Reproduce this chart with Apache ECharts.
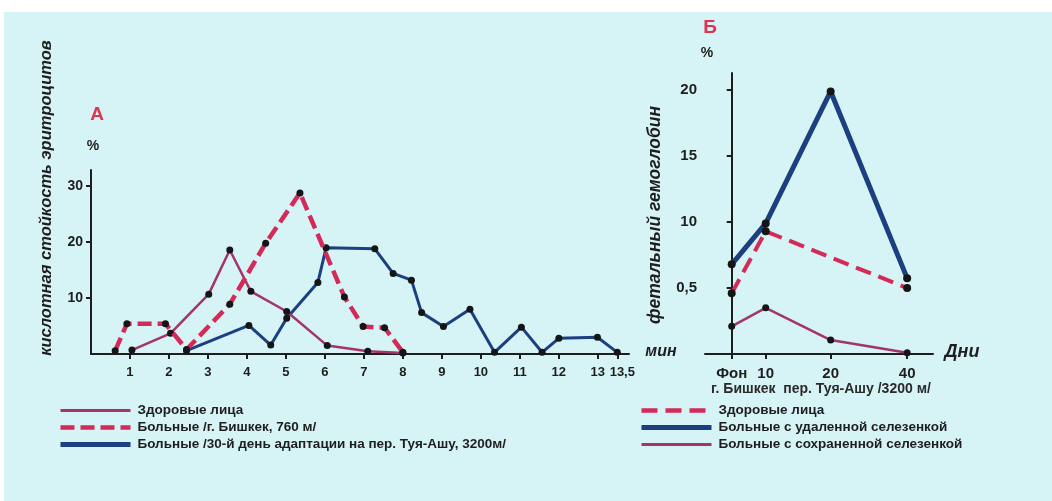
<!DOCTYPE html>
<html>
<head>
<meta charset="utf-8">
<script src="https://cdn.jsdelivr.net/npm/echarts@6/dist/echarts.min.js"></script>
<style>
  html, body { margin: 0; padding: 0; background: #ffffff; }
  #chart { width: 1052px; height: 501px; }
</style>
</head>
<body>
<div id="chart"></div>
<script>
// ---------- Chart A: acid resistance of erythrocytes ----------
const xTicksA = [1, 2, 3, 4, 5, 6, 7, 8, 9, 10, 11, 12, 13, 13.5];
const xTickLabelsA = ['1', '2', '3', '4', '5', '6', '7', '8', '9', '10', '11', '12', '13', '13,5'];
const yTicksA = [10, 20, 30];

const healthyA_x = [1.05, 2.04, 3.02, 3.56, 4.1, 5.02, 6.06, 7.1, 8.0];
const healthyA_y = [0.7, 3.7, 10.7, 18.6, 11.2, 7.6, 1.5, 0.5, 0.2];

const bishkek_x = [0.62, 0.92, 1.91, 2.45, 3.56, 4.48, 5.36, 6.5, 6.98, 7.53, 8.0];
const bishkek_y = [0.6, 5.4, 5.4, 0.8, 8.9, 19.8, 28.8, 10.2, 4.9, 4.7, 0.3];

const tuya_x = [2.45, 4.05, 4.61, 5.02, 5.82, 6.03, 7.28, 7.75, 8.22, 8.48, 9.04, 9.72, 10.35, 11.04, 11.57, 12.0, 12.99, 13.5];
const tuya_y = [0.6, 5.1, 1.6, 6.4, 12.8, 19.0, 18.8, 14.4, 13.2, 7.4, 4.9, 8.0, 0.3, 4.8, 0.3, 2.8, 3.0, 0.3];

// ---------- Chart Б: fetal hemoglobin ----------
const xLabelsB = ['Фон', '10', '20', '40'];
const xPosB = [0, 1, 2.91, 5.16];          // horizontal placement of each period as drawn
const yTicksB = [5, 10, 15, 20];
const yTickLabelsB = ['0,5', '10', '15', '20'];

const healthyB = [4.6, 9.3, null, 5.0];
const removedSpleen = [6.8, 9.9, 19.9, 5.75];
const keptSpleen = [2.1, 3.5, 1.06, 0.1];

const namesA = ['Здоровые лица', 'Больные /г. Бишкек, 760 м/', 'Больные /30-й день адаптации на пер. Туя-Ашу, 3200м/'];
const namesB = ['Б: Здоровые лица', 'Б: Больные с удаленной селезенкой', 'Б: Больные с сохраненной селезенкой'];

const pair = (xs, ys) => xs.map((x, i) => [x, ys[i]]);

const C_RED = '#d42a58';
const C_BLUE = '#1c3f80';
const C_PINK = '#a3356a';
const C_TEXT = '#1e1e1e';
const FONT = 'Liberation Sans, Arial, sans-serif';

const axisLineStyle = { color: '#1e1e1e', width: 2 };
const tickFont = { color: C_TEXT, fontSize: 13, fontWeight: 'bold', fontFamily: FONT };

const chart = echarts.init(document.getElementById('chart'), null, { renderer: 'canvas' });

const legendText = { color: C_TEXT, fontSize: 13.5, fontWeight: 'bold', fontFamily: FONT, padding: [0, 0, 0, 2], lineHeight: 15 };
const legendWidths = [3, 4.5, 5];
const legendWidthsB = [4.5, 5, 3];

const option = {
  backgroundColor: '#ffffff',
  animation: false,
  graphic: [
    { type: 'rect', z: -10, shape: { x: 4, y: 12, width: 1048, height: 489 }, style: { fill: '#d6f3f5' } },
    { type: 'text', x: 97, y: 115, style: { text: 'А', fill: '#e0334f', font: 'bold 19px ' + FONT, textAlign: 'center', textVerticalAlign: 'middle' } },
    { type: 'text', x: 93, y: 146, style: { text: '%', fill: C_TEXT, font: 'bold 14px ' + FONT, textAlign: 'center', textVerticalAlign: 'middle' } },
    { type: 'text', x: 710, y: 28, style: { text: 'Б', fill: '#e0334f', font: 'bold 19px ' + FONT, textAlign: 'center', textVerticalAlign: 'middle' } },
    { type: 'text', x: 707, y: 53, style: { text: '%', fill: C_TEXT, font: 'bold 14px ' + FONT, textAlign: 'center', textVerticalAlign: 'middle' } },
    { type: 'text', x: 661, y: 352, style: { text: 'мин', fill: C_TEXT, font: 'italic bold 16px ' + FONT, textAlign: 'center', textVerticalAlign: 'middle' } },
    { type: 'text', x: 962, y: 352, style: { text: 'Дни', fill: C_TEXT, font: 'italic bold 18px ' + FONT, textAlign: 'center', textVerticalAlign: 'middle' } },
    { type: 'text', x: 821, y: 389, style: { text: 'г. Бишкек  пер. Туя-Ашу /3200 м/', fill: '#2a2a2a', font: 'bold 14px ' + FONT, textAlign: 'center', textVerticalAlign: 'middle' } },
    { type: 'text', x: 46, y: 198, rotation: Math.PI / 2, style: { text: 'кислотная стойкость эритроцитов', fill: C_TEXT, font: 'italic bold 16.5px ' + FONT, textAlign: 'center', textVerticalAlign: 'middle' } },
    { type: 'text', x: 655, y: 215, rotation: Math.PI / 2, style: { text: 'фетальный гемоглобин', fill: C_TEXT, font: 'italic bold 17.5px ' + FONT, textAlign: 'center', textVerticalAlign: 'middle' } }
  ],
  legend: [
    {
      orient: 'vertical', left: 53, top: 398,
      itemWidth: 70, itemHeight: 8, itemGap: 2,
      data: namesA.map((n, i) => ({ name: n, lineStyle: { width: legendWidths[i] } })),
      itemStyle: { opacity: 0 },
      textStyle: legendText,
      selectedMode: false
    },
    {
      orient: 'vertical', left: 634, top: 398,
      itemWidth: 70, itemHeight: 8, itemGap: 2,
      data: namesB.map((n, i) => ({ name: n, lineStyle: { width: legendWidthsB[i] } })),
      itemStyle: { opacity: 0 },
      formatter: n => n.replace(/^Б: /, ''),
      textStyle: legendText,
      selectedMode: false
    }
  ],
  grid: [
    { left: 91, right: 423, top: 170, bottom: 147, containLabel: false },
    { left: 705, right: 119, top: 73, bottom: 147, containLabel: false }
  ],
  xAxis: [
    {
      type: 'value', gridIndex: 0, min: 0, max: 13.8,
      splitLine: { show: false },
      axisLine: { lineStyle: axisLineStyle },
      axisTick: { show: true, inside: false, length: 5, lineStyle: { width: 2, color: '#1e1e1e' }, customValues: xTicksA },
      axisLabel: Object.assign({ margin: 12, customValues: xTicksA, hideOverlap: false,
        rich: { r: { fontSize: 13, fontWeight: 'bold', fontFamily: FONT, color: C_TEXT, padding: [0, 0, 0, 10] } },
        formatter: v => {
          const i = xTicksA.findIndex(t => Math.abs(t - v) < 1e-6);
          if (i < 0) return '';
          return i === xTicksA.length - 1 ? '{r|' + xTickLabelsA[i] + '}' : xTickLabelsA[i];
        } }, tickFont)
    },
    {
      type: 'value', gridIndex: 1, min: -0.785, max: 5.92,
      splitLine: { show: false },
      axisLine: { lineStyle: axisLineStyle },
      axisTick: { show: true, inside: false, length: 5, lineStyle: { width: 2, color: '#1e1e1e' }, customValues: xPosB },
      axisLabel: Object.assign({ margin: 12, customValues: xPosB, hideOverlap: false,
        formatter: v => { const i = xPosB.findIndex(t => Math.abs(t - v) < 1e-6); return i >= 0 ? xLabelsB[i] : ''; } }, tickFont, { fontSize: 15 })
    }
  ],
  yAxis: [
    {
      type: 'value', gridIndex: 0, min: 0, max: 32.9,
      splitLine: { show: false },
      axisLine: { show: true, lineStyle: axisLineStyle },
      axisTick: { show: true, length: 5, lineStyle: { width: 2, color: '#1e1e1e' }, customValues: yTicksA },
      axisLabel: Object.assign({ margin: 8, customValues: yTicksA, formatter: v => String(v) }, tickFont, { fontSize: 14 })
    },
    {
      type: 'value', gridIndex: 1, min: 0, max: 21.3,
      splitLine: { show: false },
      axisLine: { show: true, lineStyle: axisLineStyle },
      axisTick: { show: true, length: 5, lineStyle: { width: 2, color: '#1e1e1e' }, customValues: yTicksB },
      axisLabel: Object.assign({ margin: 8, customValues: yTicksB,
        formatter: v => { const i = yTicksB.findIndex(t => Math.abs(t - v) < 1e-6); return i >= 0 ? yTickLabelsB[i] : ''; } }, tickFont, { fontSize: 15 })
    }
  ],
  series: [
    {
      name: namesA[0], type: 'line', xAxisIndex: 0, yAxisIndex: 0,
      data: pair(healthyA_x, healthyA_y),
      symbol: 'circle', symbolSize: 7,
      lineStyle: { color: C_PINK, width: 2.5 },
      itemStyle: { color: '#151515' }, z: 3
    },
    {
      name: namesA[1], type: 'line', xAxisIndex: 0, yAxisIndex: 0,
      data: pair(bishkek_x, bishkek_y),
      symbol: 'circle', symbolSize: 7,
      lineStyle: { color: C_RED, width: 4.5, type: [14, 6] },
      itemStyle: { color: '#151515' }, z: 4
    },
    {
      name: namesA[2], type: 'line', xAxisIndex: 0, yAxisIndex: 0,
      data: pair(tuya_x, tuya_y),
      symbol: 'circle', symbolSize: 7,
      lineStyle: { color: C_BLUE, width: 3 },
      itemStyle: { color: '#151515' }, z: 2
    },
    {
      name: namesB[0], type: 'line', xAxisIndex: 1, yAxisIndex: 1,
      data: xPosB.map((x, i) => [x, healthyB[i]]), connectNulls: true,
      symbol: 'circle', symbolSize: 8,
      lineStyle: { color: C_RED, width: 4, type: [16, 8] },
      itemStyle: { color: '#151515' }, z: 3
    },
    {
      name: namesB[1], type: 'line', xAxisIndex: 1, yAxisIndex: 1,
      data: xPosB.map((x, i) => [x, removedSpleen[i]]),
      symbol: 'circle', symbolSize: 8,
      lineStyle: { color: C_BLUE, width: 5 },
      itemStyle: { color: '#151515' }, z: 2
    },
    {
      name: namesB[2], type: 'line', xAxisIndex: 1, yAxisIndex: 1,
      data: xPosB.map((x, i) => [x, keptSpleen[i]]),
      symbol: 'circle', symbolSize: 7,
      lineStyle: { color: C_PINK, width: 2.5 },
      itemStyle: { color: '#151515' }, z: 3
    }
  ]
};

chart.setOption(option);
</script>
</body>
</html>
